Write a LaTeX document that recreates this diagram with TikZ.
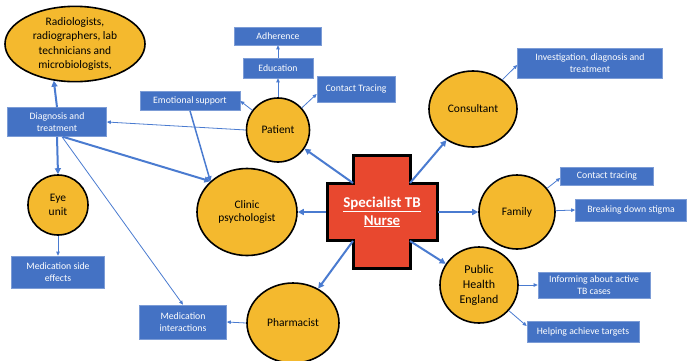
\documentclass[tikz,border=0pt]{standalone}
\usepackage{fontspec}
\setmainfont{Carlito}
\usetikzlibrary{arrows.meta,shapes.geometric}
\definecolor{boxblue}{HTML}{4472C4}
\definecolor{linkblue}{HTML}{4A7BD0}
\definecolor{gold}{HTML}{F4B92E}
\definecolor{crossred}{HTML}{E8482F}
\begin{document}
\begin{tikzpicture}[x=1bp,y=-1bp,
  box/.style={rectangle, fill=boxblue, draw=boxblue!70!white, line width=0.6bp, text=white,
    inner sep=0pt, align=center, font=\fontsize{9.8}{12.5}\selectfont},
  ell/.style={ellipse, draw=black, line width=1.6bp, fill=gold, inner sep=0pt, align=center,
    font=\fontsize{11.5}{14}\selectfont},
  thick link/.style={draw=linkblue, line width=2bp, -{Triangle[length=6bp,width=6bp]}},
  mid link/.style={draw=linkblue, line width=1.5bp, -{Triangle[length=5bp,width=5bp]}},
  thin link/.style={draw=linkblue, line width=0.8bp, -{Triangle[length=4bp,width=3.5bp]}}
]
\useasboundingbox (0,0) rectangle (687,360);

% ellipses
\node[ell, minimum width=140bp, minimum height=63bp, font=\fontsize{11.5}{14.5}\selectfont] (radiol) at (75,44)
  {Radiologists,\\radiographers, lab\\technicians and\\microbiologists,};
\node[ell, minimum width=63bp, minimum height=64bp] (patient) at (278,130) {Patient};
\node[ell, minimum width=88bp, minimum height=76bp] (cons) at (473,109) {Consultant};
\node[ell, minimum width=100bp, minimum height=87bp] (psych) at (247,212) {Clinic\\psychologist};
\node[ell, minimum width=60bp, minimum height=60bp] (eye) at (58,205) {Eye\\unit};
\node[ell, minimum width=92bp, minimum height=80bp] (pharm) at (293,323) {Pharmacist};
\node[ell, minimum width=76bp, minimum height=74bp] (fam) at (517,212) {Family};
\node[ell, minimum width=78bp, minimum height=76bp, font=\fontsize{12}{15}\selectfont] (phe) at (479,285) {Public\\Health\\England};

% boxes
\node[box, minimum width=87bp, minimum height=18bp] (adh) at (278,36) {Adherence};
\node[box, minimum width=70bp, minimum height=20bp] (edu) at (278,68) {Education};
\node[box, minimum width=78bp, minimum height=26bp] (ct) at (356,89) {Contact Tracing};
\node[box, minimum width=100bp, minimum height=19bp] (emo) at (190,101) {Emotional support};
\node[box, minimum width=99bp, minimum height=29bp] (diag) at (57,122) {Diagnosis and\\treatment};
\node[box, minimum width=145bp, minimum height=30bp] (inv) at (590,63) {Investigation, diagnosis and\\treatment};
\node[box, minimum width=93bp, minimum height=18bp] (ct2) at (607,176) {Contact tracing};
\node[box, minimum width=111bp, minimum height=22bp] (stig) at (631,210) {Breaking down stigma};
\node[box, minimum width=112bp, minimum height=26bp] (inf) at (594,285) {Informing about active\\TB cases};
\node[box, minimum width=112bp, minimum height=21bp] (help) at (583,332) {Helping achieve targets};
\node[box, minimum width=93bp, minimum height=32bp] (medside) at (58,272) {Medication side\\effects};
\node[box, minimum width=87bp, minimum height=34bp] (medint) at (183,322) {Medication\\interactions};

% cross
\draw[fill=crossred, draw=black, line width=3bp, line join=miter]
  (353,155) -- (410,155) -- (410,183) -- (437,183) -- (437,240) -- (410,240)
  -- (410,268) -- (353,268) -- (353,240) -- (327,240) -- (327,183) -- (353,183) -- cycle;
\node[text=white, font=\fontsize{15}{18}\selectfont\bfseries, align=center] (nurse) at (382,212)
  {\underline{Specialist TB}\\\underline{Nurse}};
\coordinate (cnw) at (353,183);
\coordinate (cne) at (410,183);
\coordinate (csw) at (353,241);
\coordinate (cse) at (410,241);
\coordinate (cw) at (326,212);
\coordinate (ce) at (438,212);

% nurse links
\draw[thick link] (cnw) -- (patient);
\draw[thick link] (cne) -- (cons);
\draw[thick link] (cw) -- (psych);
\draw[thick link] (ce) -- (fam);
\draw[thick link] (csw) -- (pharm);
\draw[thick link] (cse) -- (phe);

% left side links
\draw[thick link] (diag.north) -- (radiol.240);
\draw[thick link] (diag.south) -- (eye.north);
\draw[thick link] ([xshift=6bp]diag.south) -- (psych.140);
\draw[mid link] (emo.south) -- (psych.140);
\draw[thin link] ([xshift=5bp]diag.south) -- (medint.north);
\draw[thin link] (patient.west) -- (diag.east);
\draw[thin link] (eye.south) -- (medside.north);
\draw[thin link] (pharm.west) -- (medint.east);

% patient links
\draw[thin link] (patient.north) -- (edu.south);
\draw[thin link] (edu.north) -- (adh.south);
\draw[thin link] (patient) -- ([yshift=-5bp]ct.west);
\draw[thin link] (patient) -- (emo.east);

% right side links
\draw[thin link] (cons) -- ([yshift=-2bp]inv.west);
\draw[thin link] (fam) -- ([yshift=-2bp]ct2.west);
\draw[thin link] (fam) -- (stig.west);
\draw[thin link] (phe) -- (inf.west);
\draw[thin link] (phe) -- ([yshift=6bp]help.west);
\end{tikzpicture}
\end{document}
